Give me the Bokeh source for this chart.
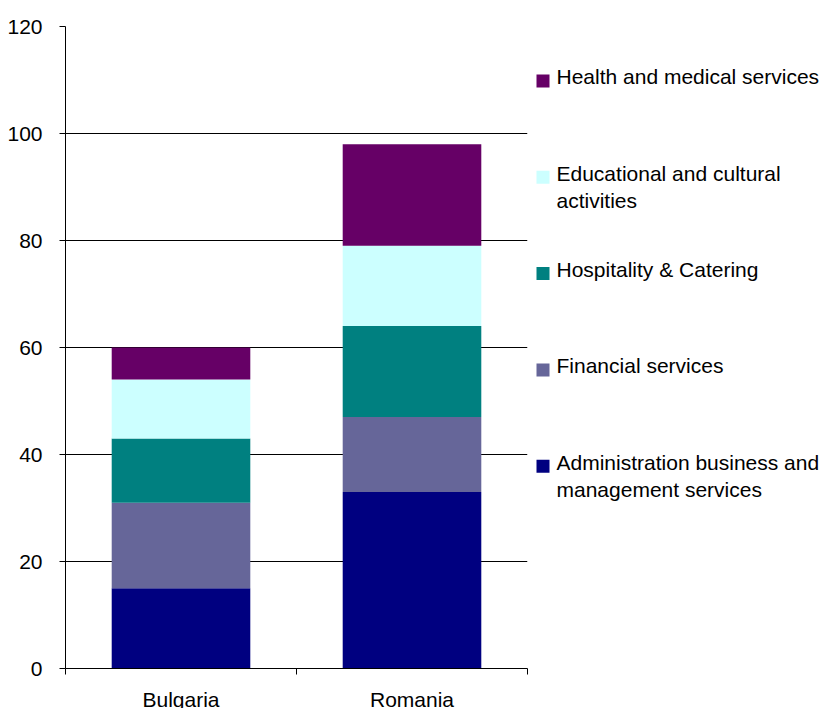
from bokeh.plotting import figure
from bokeh.models import Range1d, FixedTicker, ColumnDataSource
from bokeh.layouts import row
from bokeh.embed import file_html
from bokeh.resources import INLINE
from bokeh.core.properties import value

# ---- data ----
categories = ["Bulgaria", "Romania"]
series_names = [
    "Administration business and\nmanagement services",
    "Financial services",
    "Hospitality & Catering",
    "Educational and cultural\nactivities",
    "Health and medical services",
]
admin = [15, 33]
financial = [16, 14]
hospitality = [12, 17]
educational = [11, 15]
health = [6, 19]
colors = ["#000080", "#666699", "#008080", "#CCFFFF", "#660066"]
y_ticks = [0, 20, 40, 60, 80, 100, 120]

FONT = "Liberation Sans"
FS = "21px"

TOP, FH, FW, LEFT = 26, 642, 462, 65

keys = ["admin", "financial", "hospitality", "educational", "health"]
src = ColumnDataSource(dict(
    x=[i + 0.5 for i in range(len(categories))],
    admin=admin, financial=financial, hospitality=hospitality,
    educational=educational, health=health,
))

p = figure(frame_width=FW, frame_height=FH, output_backend="svg",
           toolbar_location=None, title=None,
           x_range=Range1d(0, len(categories)), y_range=Range1d(0, 120),
           min_border_left=LEFT, min_border_right=5, min_border_top=TOP,
           min_border_bottom=0)
p.outline_line_color = None
p.vbar_stack(keys, x="x", width=0.6, source=src, color=colors, line_color=None)

p.xgrid.visible = False
p.ygrid.grid_line_color = "black"
p.ygrid.ticker = FixedTicker(ticks=y_ticks)

ya = p.yaxis[0]
ya.ticker = FixedTicker(ticks=y_ticks)
ya.minor_tick_line_color = None
ya.major_tick_out = 6
ya.major_tick_in = 0
ya.major_label_standoff = 17
ya.major_label_text_font = FONT
ya.major_label_text_font_size = FS
ya.major_label_text_color = "black"
ya.axis_line_color = "black"
ya.major_tick_line_color = "black"

xa = p.xaxis[0]
xa.ticker = FixedTicker(ticks=[i + 0.5 for i in range(len(categories))],
                        minor_ticks=list(range(len(categories) + 1)))
xa.major_label_overrides = {i + 0.5: c for i, c in enumerate(categories)}
xa.major_tick_out = 0
xa.major_tick_in = 0
xa.minor_tick_out = 6
xa.minor_tick_in = 0
xa.minor_tick_line_color = "black"
xa.major_label_standoff = 13
xa.major_label_text_font = FONT
xa.major_label_text_font_size = FS
xa.major_label_text_color = "black"
xa.axis_line_color = "black"

# ---- legend panel (frame aligned with the chart frame; y in page pixels) ----
LW = 297
leg = figure(frame_width=LW, frame_height=FH, output_backend="svg",
             toolbar_location=None, title=None,
             x_axis_location=None, y_axis_location=None,
             x_range=Range1d(0, LW), y_range=Range1d(TOP + FH, TOP),
             min_border=0, min_border_left=0, min_border_right=0,
             min_border_top=TOP, min_border_bottom=0)
leg.grid.visible = False
leg.outline_line_color = None
leg.background_fill_color = None
leg.border_fill_color = None

order = list(range(len(series_names)))[::-1]  # top item = Health
step = 96.3
top0 = 64.8
lsrc = ColumnDataSource(dict(
    sx=[10.5] * len(order),
    sy=[top0 + 15.7 + k * step for k in range(len(order))],
    tx=[24] * len(order),
    ty=[top0 + k * step for k in range(len(order))],
    label=[series_names[i] for i in order],
    color=[colors[i] for i in order],
))
leg.scatter(x="sx", y="sy", marker="square", size=13, color="color",
            line_color=None, source=lsrc)
leg.text(x="tx", y="ty", text="label", source=lsrc, text_font=value(FONT),
         text_font_size=FS, text_baseline="top", text_align="left",
         text_color="black", text_line_height=1.2)

layout = row(p, leg)
open("out.html", "w").write(file_html(layout, INLINE))
